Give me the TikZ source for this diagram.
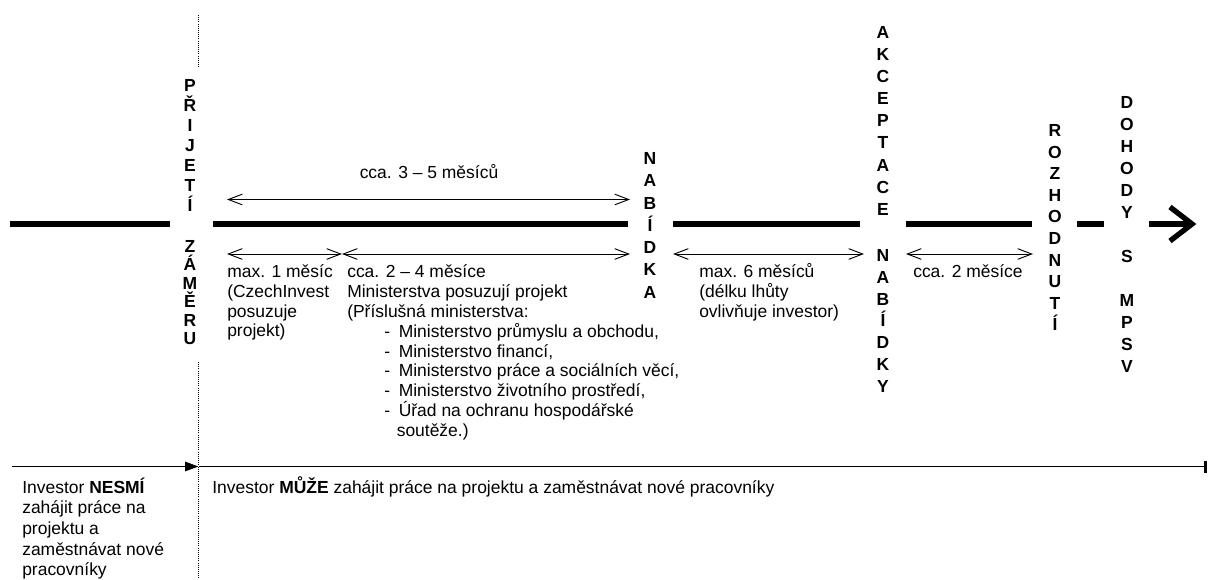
\documentclass[tikz,border=0pt]{standalone}
\usepackage{fontspec}
\setmainfont{Liberation Sans}
\usetikzlibrary{arrows.meta}
\begin{document}
\begin{tikzpicture}[x=0.75pt,y=-0.75pt,
  txt/.style={font=\fontsize{13.1pt}{14.6pt}\selectfont, inner sep=0pt, anchor=base west},
  letter/.style={font=\fontsize{13.1pt}{14.6pt}\selectfont\bfseries, inner sep=0pt, anchor=base},
  mainline/.style={line width=4pt},
  spanarrow/.style={line width=0.7pt, {Straight Barb[length=10.5pt,width=8pt]}-{Straight Barb[length=10.5pt,width=8pt]}},
  dotline/.style={line width=0.6pt, densely dotted},
]
\useasboundingbox (0,0) rectangle (1209,580);

% main timeline
\draw[mainline] (10,224) -- (170,224);
\draw[mainline] (213,224) -- (628,224);
\draw[mainline] (673,224) -- (860,224);
\draw[mainline] (906,224) -- (1032,224);
\draw[mainline] (1077,224) -- (1104,224);
\coordinate (tipend) at (1192,224);
\draw[mainline] (1149,224) -- (tipend);
\draw[mainline, line join=miter] (1170,207) -- (tipend) -- (1170,241);

% dotted marker line
\draw[dotline] (198.5,15) -- (198.5,68);
\draw[dotline] (198.5,362) -- (198.5,580);

% vertical labels
\foreach \c [count=\i from 0] in {P,Ř,I,J,E,T,Í}
  \node[letter] (pr\i) at (190,91.5+20*\i) {\c};
\foreach \c [count=\i from 0] in {Z,Á,M,Ě,R,U}
  \node[letter] (za\i) at (190,252.5+18.4*\i) {\c};
\foreach \c [count=\i from 0] in {N,A,B,Í,D,K,A}
  \node[letter] (nb\i) at (650,164.5+22.3*\i) {\c};
\foreach \c [count=\i from 0] in {A,K,C,E,P,T,A,C,E}
  \node[letter] (ak\i) at (883,38.5+22.1*\i) {\c};
\foreach \c [count=\i from 0] in {N,A,B,Í,D,K,Y}
  \node[letter] (nk\i) at (883,261.5+21.8*\i) {\c};
\foreach \c [count=\i from 0] in {R,O,Z,H,O,D,N,U,T,Í}
  \node[letter] (ro\i) at (1055,136.5+21.6*\i) {\c};
\foreach \c/\i in {D/0,O/1,H/2,O/3,D/4,Y/5,S/7,M/9,P/10,S/11,V/12}
  \node[letter] (do\i) at (1127,108.5+22*\i) {\c};

% duration arrows
\coordinate (u1) at (227,199.5); \coordinate (u2) at (630,199.5);
\draw[spanarrow] (u1) -- (u2);
\node[txt, anchor=base] (l35) at (429,179) {cca. 3 – 5 měsíců};

\coordinate (a1) at (227,254); \coordinate (ab) at (342,254);
\coordinate (b2) at (630,254);
\coordinate (c1) at (673,254); \coordinate (c2) at (864,254);
\coordinate (d1) at (906,254); \coordinate (d2) at (1033,254);
\draw[spanarrow] (a1) -- (ab);
\draw[spanarrow] (ab) -- (b2);
\draw[spanarrow] (c1) -- (c2);
\draw[spanarrow] (d1) -- (d2);

% text blocks below arrows
\foreach \t [count=\i from 0] in {{max. 1 měsíc},{(CzechInvest},{posuzuje},{projekt)}}
  \node[txt] (t1\i) at (227,278+19.6*\i) {\t};
\foreach \t [count=\i from 0] in {{cca. 2 – 4 měsíce},{Ministerstva posuzují projekt},{(Příslušná ministerstva:}}
  \node[txt] (t2\i) at (347,278+19.6*\i) {\t};
\foreach \t [count=\i from 3] in {{Ministerstvo průmyslu a obchodu,},{Ministerstvo financí,},{Ministerstvo práce a sociálních věcí,},{Ministerstvo životního prostředí,},{Úřad na ochranu hospodářské}}
  \node[txt] (t2\i) at (384,278+19.8*\i) {-\hspace{0.5em}\t};
\node[txt] (t28) at (396.5,278+19.8*8) {soutěže.)};
\foreach \t [count=\i from 0] in {{max. 6 měsíců},{(délku lhůty},{ovlivňuje investor)}}
  \node[txt] (t3\i) at (699,278+19.8*\i) {\t};
\node[txt] (t40) at (913,278) {cca. 2 měsíce};

% lower timeline
\coordinate (s0) at (12,466.5);
\coordinate (s1) at (198.5,466.5);
\coordinate (s2) at (1207,466.5);
\draw[line width=1.1pt, -{Triangle[length=10pt,width=7pt]}] (s0) -- (s1);
\draw[line width=1.1pt, -{Bar[width=9pt,line width=2pt]}] (s1) -- (s2);

\foreach \t [count=\i from 0] in {{Investor \textbf{NESMÍ}},{zahájit práce na},{projektu a},{zaměstnávat nové},{pracovníky}}
  \node[txt] (n\i) at (22,493+20.7*\i) {\t};
\node[txt] (m0) at (212,493) {Investor \textbf{MŮŽE} zahájit práce na projektu a zaměstnávat nové pracovníky};
\end{tikzpicture}
\end{document}
